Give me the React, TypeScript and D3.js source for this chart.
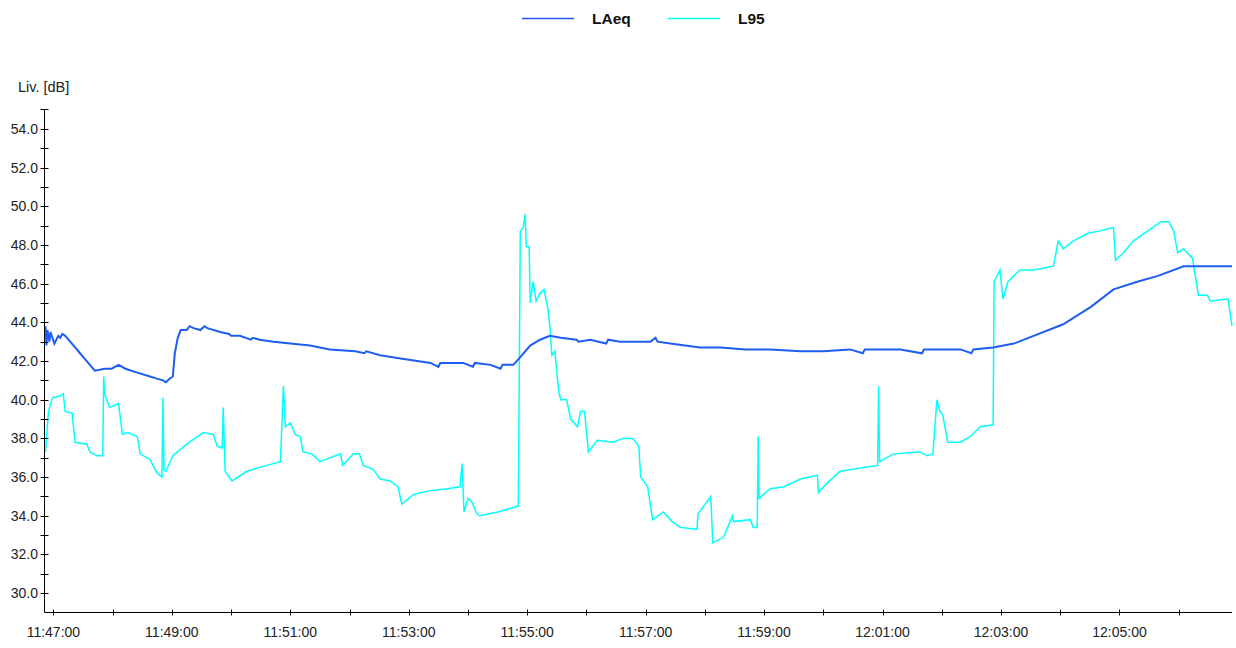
import { useRef, useEffect } from 'react';
import * as d3 from 'd3';

type Sample = [string, number];

const WIDTH = 1236;
const HEIGHT = 648;
const LEFT = 44.5;
const RIGHT = 1232;
const TOP = 109.5;
const BOTTOM = 612.5;

const FONT = '"Liberation Sans", Arial, sans-serif';

const SERIES_NAMES = ['LAeq', 'L95'];
const SERIES_COLORS = ['#1f5cf2', '#00ffff'];

const TIME_START = '11:46:51';
const TIME_END = '12:06:54';
const TIME_TICK_LABELS = ['11:47:00', '11:49:00', '11:51:00', '11:53:00', '11:55:00', '11:57:00', '11:59:00', '12:01:00', '12:03:00', '12:05:00'];
const Y_MIN = 29;
const Y_MAX = 55;
const Y_TICK_LABELS = [30, 32, 34, 36, 38, 40, 42, 44, 46, 48, 50, 52, 54];

// LAeq
const laeq: Sample[] = [
  ['11:46:52', 43.8], ['11:46:53', 42.8], ['11:46:54', 43.6], ['11:46:56', 43.0], ['11:46:57', 43.5],
  ['11:46:59', 43.2], ['11:47:01', 42.9], ['11:47:03', 43.1], ['11:47:05', 43.3], ['11:47:07', 43.2],
  ['11:47:09', 43.4], ['11:47:12', 43.3], ['11:47:17', 43.0], ['11:47:22', 42.7], ['11:47:27', 42.4],
  ['11:47:32', 42.1], ['11:47:37', 41.8], ['11:47:42', 41.5], ['11:47:52', 41.6], ['11:47:59', 41.6],
  ['11:48:06', 41.8], ['11:48:13', 41.6], ['11:48:25', 41.4], ['11:48:38', 41.2], ['11:48:44', 41.1],
  ['11:48:51', 41.0], ['11:48:54', 40.9], ['11:48:58', 41.1], ['11:49:01', 41.2], ['11:49:03', 42.4],
  ['11:49:06', 43.2], ['11:49:09', 43.6], ['11:49:15', 43.6], ['11:49:18', 43.8], ['11:49:22', 43.7],
  ['11:49:29', 43.6], ['11:49:33', 43.8], ['11:49:36', 43.7], ['11:49:49', 43.5], ['11:49:58', 43.4],
  ['11:50:00', 43.3], ['11:50:09', 43.3], ['11:50:20', 43.1], ['11:50:22', 43.2], ['11:50:29', 43.1],
  ['11:50:43', 43.0], ['11:51:00', 42.9], ['11:51:20', 42.8], ['11:51:40', 42.6], ['11:52:06', 42.5],
  ['11:52:15', 42.4], ['11:52:17', 42.5], ['11:52:31', 42.3], ['11:52:55', 42.1], ['11:53:22', 41.9],
  ['11:53:30', 41.7], ['11:53:32', 41.9], ['11:53:55', 41.9], ['11:54:05', 41.7], ['11:54:07', 41.9],
  ['11:54:23', 41.8], ['11:54:33', 41.6], ['11:54:35', 41.8], ['11:54:46', 41.8], ['11:54:53', 42.2],
  ['11:55:03', 42.8], ['11:55:13', 43.1], ['11:55:23', 43.3], ['11:55:34', 43.2], ['11:55:50', 43.1],
  ['11:55:52', 43.0], ['11:56:04', 43.1], ['11:56:20', 42.9], ['11:56:22', 43.1], ['11:56:34', 43.0],
  ['11:57:05', 43.0], ['11:57:10', 43.2], ['11:57:12', 43.0], ['11:57:25', 42.9], ['11:57:40', 42.8],
  ['11:57:55', 42.7], ['11:58:16', 42.7], ['11:58:41', 42.6], ['11:59:06', 42.6], ['11:59:37', 42.5],
  ['12:00:00', 42.5], ['12:00:27', 42.6], ['12:00:40', 42.4], ['12:00:42', 42.6], ['12:01:18', 42.6],
  ['12:01:40', 42.4], ['12:01:42', 42.6], ['12:02:19', 42.6], ['12:02:30', 42.4], ['12:02:32', 42.6],
  ['12:02:52', 42.7], ['12:03:13', 42.9], ['12:03:33', 43.3], ['12:04:03', 43.9], ['12:04:31', 44.8],
  ['12:04:54', 45.7], ['12:05:18', 46.1], ['12:05:39', 46.4], ['12:06:05', 46.9], ['12:06:27', 46.9],
  ['12:06:54', 46.9],
];

// L95
const l95: Sample[] = [
  ['11:46:52', 37.3], ['11:46:55', 39.4], ['11:46:59', 40.1], ['11:47:07', 40.2], ['11:47:10', 40.3],
  ['11:47:12', 39.4], ['11:47:19', 39.3], ['11:47:22', 37.8], ['11:47:34', 37.7], ['11:47:37', 37.3],
  ['11:47:44', 37.1], ['11:47:50', 37.1], ['11:47:51', 41.2], ['11:47:52', 40.3], ['11:47:54', 40.0],
  ['11:47:57', 39.6], ['11:48:06', 39.8], ['11:48:10', 38.2], ['11:48:15', 38.3], ['11:48:25', 38.1],
  ['11:48:28', 37.2], ['11:48:38', 36.9], ['11:48:45', 36.2], ['11:48:50', 36.0], ['11:48:51', 40.1],
  ['11:48:52', 36.4], ['11:48:54', 36.3], ['11:49:01', 37.1], ['11:49:15', 37.7], ['11:49:32', 38.3],
  ['11:49:42', 38.2], ['11:49:46', 37.6], ['11:49:51', 37.5], ['11:49:52', 39.6], ['11:49:54', 36.3],
  ['11:50:01', 35.8], ['11:50:16', 36.3], ['11:50:29', 36.5], ['11:50:50', 36.8], ['11:50:53', 40.7],
  ['11:50:55', 38.6], ['11:51:00', 38.8], ['11:51:05', 38.2], ['11:51:10', 38.1], ['11:51:13', 37.3],
  ['11:51:22', 37.2], ['11:51:30', 36.8], ['11:51:51', 37.2], ['11:51:53', 36.6], ['11:52:04', 37.2],
  ['11:52:10', 37.2], ['11:52:14', 36.6], ['11:52:24', 36.4], ['11:52:31', 35.9], ['11:52:41', 35.8],
  ['11:52:49', 35.5], ['11:52:53', 34.6], ['11:53:05', 35.1], ['11:53:22', 35.3], ['11:53:39', 35.4],
  ['11:53:52', 35.5], ['11:53:54', 36.7], ['11:53:56', 34.2], ['11:54:00', 34.9], ['11:54:04', 34.7],
  ['11:54:09', 34.1], ['11:54:12', 34.0], ['11:54:30', 34.2], ['11:54:51', 34.5], ['11:54:53', 48.7],
  ['11:54:56', 48.9], ['11:54:58', 49.6], ['11:54:59', 47.9], ['11:55:02', 47.9], ['11:55:03', 45.0],
  ['11:55:06', 46.1], ['11:55:09', 45.1], ['11:55:13', 45.5], ['11:55:17', 45.7], ['11:55:21', 44.7],
  ['11:55:23', 43.8], ['11:55:25', 42.3], ['11:55:28', 42.5], ['11:55:32', 40.4], ['11:55:34', 40.0],
  ['11:55:40', 40.0], ['11:55:44', 39.0], ['11:55:51', 38.6], ['11:55:54', 39.4], ['11:55:58', 39.4],
  ['11:56:02', 37.3], ['11:56:11', 37.9], ['11:56:27', 37.8], ['11:56:37', 38.0], ['11:56:47', 38.0],
  ['11:56:53', 37.6], ['11:56:55', 36.0], ['11:57:02', 35.5], ['11:57:05', 34.5], ['11:57:07', 33.8],
  ['11:57:18', 34.2], ['11:57:27', 33.7], ['11:57:35', 33.4], ['11:57:52', 33.3], ['11:57:53', 34.1],
  ['11:58:06', 35.0], ['11:58:08', 32.6], ['11:58:19', 32.9], ['11:58:28', 34.0], ['11:58:29', 33.7],
  ['11:58:46', 33.8], ['11:58:49', 33.4], ['11:58:53', 33.4], ['11:58:54', 38.1], ['11:58:55', 34.9],
  ['11:59:06', 35.4], ['11:59:20', 35.5], ['11:59:37', 35.9], ['11:59:54', 36.1], ['11:59:55', 35.2],
  ['12:00:04', 35.7], ['12:00:17', 36.3], ['12:00:41', 36.5], ['12:00:55', 36.6], ['12:00:56', 40.7],
  ['12:00:57', 36.8], ['12:01:11', 37.2], ['12:01:38', 37.3], ['12:01:45', 37.1], ['12:01:51', 37.2],
  ['12:01:55', 40.0], ['12:01:58', 39.4], ['12:02:01', 39.2], ['12:02:06', 37.8], ['12:02:19', 37.8],
  ['12:02:29', 38.1], ['12:02:39', 38.6], ['12:02:52', 38.7], ['12:02:53', 46.1], ['12:02:59', 46.7],
  ['12:03:02', 45.2], ['12:03:07', 46.1], ['12:03:19', 46.7], ['12:03:33', 46.7], ['12:03:53', 46.9],
  ['12:03:58', 48.2], ['12:04:03', 47.8], ['12:04:13', 48.2], ['12:04:28', 48.6], ['12:04:38', 48.7],
  ['12:04:54', 48.9], ['12:04:56', 47.2], ['12:05:04', 47.6], ['12:05:14', 48.2], ['12:05:28', 48.7],
  ['12:05:42', 49.2], ['12:05:50', 49.2], ['12:05:55', 48.7], ['12:05:59', 47.6], ['12:06:05', 47.8],
  ['12:06:14', 47.3], ['12:06:20', 45.4], ['12:06:29', 45.4], ['12:06:32', 45.1], ['12:06:50', 45.2],
  ['12:06:54', 43.8],
];

const parseTime = d3.timeParse('%H:%M:%S');

export default function App() {
  const svgRef = useRef<SVGSVGElement>(null);

  useEffect(() => {
    const svg = d3.select(svgRef.current);
    svg.selectAll('*').remove();

    const x = d3
      .scaleTime()
      .domain([parseTime(TIME_START)!, parseTime(TIME_END)!])
      .range([LEFT, RIGHT]);
    const y = d3.scaleLinear().domain([Y_MIN, Y_MAX]).range([BOTTOM, TOP]);

    svg.append('rect').attr('width', WIDTH).attr('height', HEIGHT).attr('fill', '#ffffff');

    // Legend
    const legendX = [522, 668];
    SERIES_NAMES.forEach((name, i) => {
      svg
        .append('line')
        .attr('x1', legendX[i])
        .attr('x2', legendX[i] + 52)
        .attr('y1', 18.5)
        .attr('y2', 18.5)
        .attr('stroke', SERIES_COLORS[i])
        .attr('stroke-width', 1.5);
      svg
        .append('text')
        .attr('x', legendX[i] + 70)
        .attr('y', 24)
        .attr('font-family', FONT)
        .attr('font-size', 15.5)
        .attr('font-weight', 700)
        .attr('fill', '#111')
        .text(name);
    });

    // Y axis title
    svg
      .append('text')
      .attr('x', 18)
      .attr('y', 92)
      .attr('font-family', FONT)
      .attr('font-size', 14.5)
      .attr('fill', '#222')
      .text('Liv. [dB]');

    // Series
    const line = d3
      .line<Sample>()
      .x((d) => x(parseTime(d[0])!))
      .y((d) => y(d[1]));

    svg
      .append('path')
      .datum(l95)
      .attr('d', line)
      .attr('fill', 'none')
      .attr('stroke', SERIES_COLORS[1])
      .attr('stroke-width', 1.5)
      .attr('stroke-linejoin', 'miter');

    svg
      .append('path')
      .datum(laeq)
      .attr('d', line)
      .attr('fill', 'none')
      .attr('stroke', SERIES_COLORS[0])
      .attr('stroke-width', 2)
      .attr('stroke-linejoin', 'miter');

    // Axes
    const axes = svg.append('g').attr('stroke', '#000').attr('stroke-width', 1);
    axes.append('line').attr('x1', LEFT).attr('x2', LEFT).attr('y1', TOP).attr('y2', BOTTOM);
    axes.append('line').attr('x1', LEFT).attr('x2', RIGHT).attr('y1', BOTTOM).attr('y2', BOTTOM);
    axes.append('line').attr('x1', LEFT - 4).attr('x2', LEFT + 4).attr('y1', TOP).attr('y2', TOP);

    // Y ticks: every dB, labels every 2
    d3.range(Y_MIN + 1, Y_MAX).forEach((v) => {
      const yy = Math.round(y(v)) + 0.5;
      axes.append('line').attr('x1', LEFT - 4).attr('x2', LEFT + 4).attr('y1', yy).attr('y2', yy);
    });
    Y_TICK_LABELS.forEach((v) => {
      svg
        .append('text')
        .attr('x', 38)
        .attr('y', Math.round(y(v)) + 5)
        .attr('text-anchor', 'end')
        .attr('font-family', FONT)
        .attr('font-size', 14)
        .attr('fill', '#222')
        .text(d3.format('.1f')(v));
    });

    // X ticks: every minute, labels every 2
    x.ticks(d3.timeMinute.every(1)!).forEach((t) => {
      const xx = Math.round(x(t)) + 0.5;
      axes.append('line').attr('x1', xx).attr('x2', xx).attr('y1', BOTTOM - 3).attr('y2', BOTTOM + 3);
    });
    TIME_TICK_LABELS.forEach((s) => {
      svg
        .append('text')
        .attr('x', x(parseTime(s)!))
        .attr('y', 637)
        .attr('text-anchor', 'middle')
        .attr('font-family', FONT)
        .attr('font-size', 14)
        .attr('fill', '#222')
        .text(s);
    });
  }, []);

  return (
    <svg
      ref={svgRef}
      width={WIDTH}
      height={HEIGHT}
      style={{ position: 'absolute', left: 0, top: 0, display: 'block' }}
    />
  );
}
